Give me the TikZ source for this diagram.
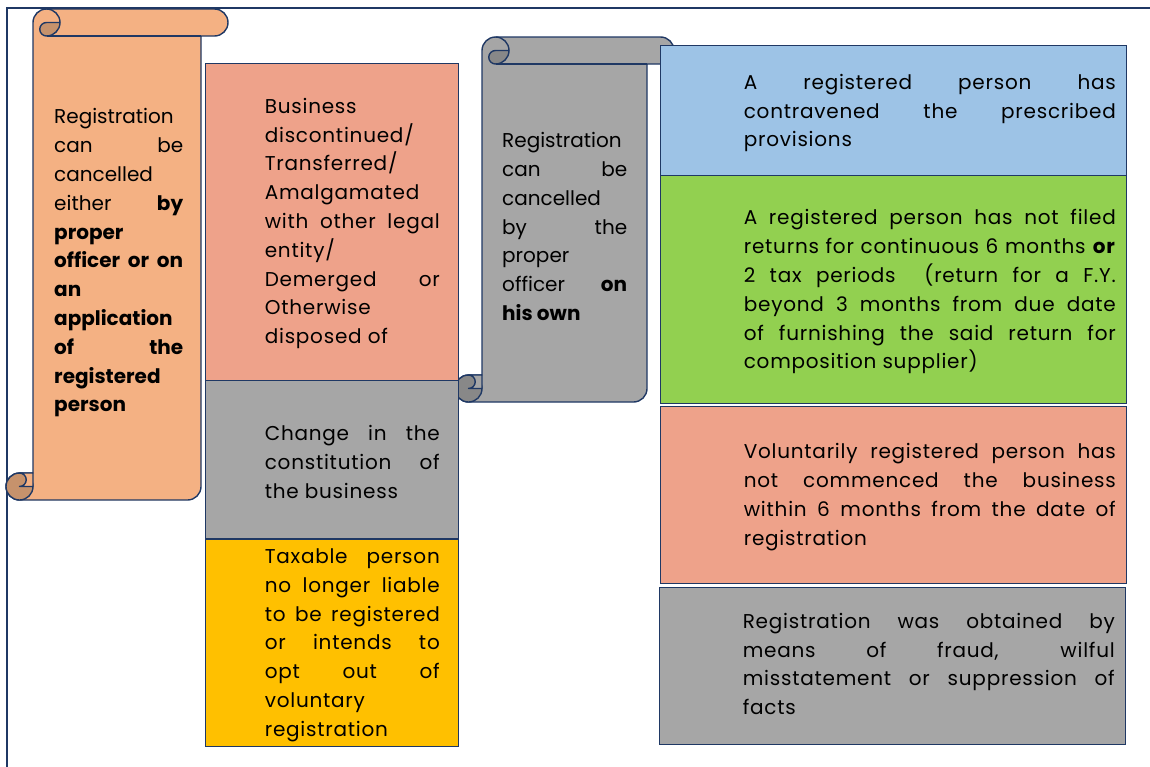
\documentclass[tikz,border=0pt]{standalone}
\usepackage{fontspec}
\setmainfont{Poppins}
\newfontfamily\boxfont[LetterSpace=3.8]{Poppins}
\usepackage{tikz}
\usetikzlibrary{positioning}

\definecolor{navy}{RGB}{31,56,100}
\definecolor{peach}{RGB}{244,177,131}
\definecolor{peachdark}{RGB}{198,146,108}
\definecolor{salmon}{RGB}{238,162,138}
\definecolor{greybox}{RGB}{166,166,166}
\definecolor{greydark}{RGB}{136,136,136}
\definecolor{gold}{RGB}{255,192,0}
\definecolor{skyblue}{RGB}{157,195,230}
\definecolor{leaf}{RGB}{146,208,80}

\def\rr{13.5}
% scroll: fill, curl fill, left, right, top, bottom
\newcommand\drawscroll[6]{%
  \filldraw[scrollline,fill=#1] (#3,#5-\rr) arc[start angle=180,end angle=90,radius=\rr]
    -- (#4+\rr,#5) arc[start angle=90,end angle=-90,radius=\rr]
    -- (#4,#5-2*\rr) -- (#4,#6+\rr) arc[start angle=0,end angle=-90,radius=\rr]
    -- (#3-\rr,#6) arc[start angle=-90,end angle=-270,radius=\rr]
    -- (#3,#6+2*\rr) -- cycle;
  \draw[scrollline] (#3+\rr,#5-2*\rr) -- (#4,#5-2*\rr);
  \filldraw[scrollline,fill=#2] (#3+\rr,#5-\rr) -- (#3+2*\rr,#5-\rr)
    arc[start angle=0,end angle=-90,radius=\rr]
    arc[start angle=270,end angle=90,radius=\rr/2] -- cycle;
  \draw[scrollline] (#3+\rr,#5) arc[start angle=90,end angle=0,radius=\rr];
  \filldraw[scrollline,fill=#2] (#3-\rr,#6+\rr) circle[radius=\rr];
  \filldraw[scrollline,fill=#1] (#3-\rr,#6+\rr) -- (#3,#6+\rr) -- (#3,#6+2*\rr)
    -- (#3-\rr,#6+2*\rr) arc[start angle=90,end angle=-90,radius=\rr/2] -- cycle;
}

\begin{document}
\begin{tikzpicture}[x=1pt,y=1pt,
  scrollline/.style={draw=navy,line width=1.4pt,line join=round},
  box/.style={draw=navy,line width=0.8pt,inner sep=0pt},
  txt/.style={text width=#1,align=justify,inner sep=0pt,
    font=\fontsize{20}{28.8}\selectfont},
  boxtxt/.style={txt=#1,font=\boxfont\fontsize{20}{28.8}\selectfont,yshift=-2pt}]
\useasboundingbox (0,0) rectangle (1150,-766);
\clip (0,0) rectangle (1150,-766);
\draw[navy,line width=1.2pt] (7,-780) |- (1160,-8);

% scrolls
\drawscroll{peach}{peachdark}{33}{201}{-9}{-500}
\drawscroll{greybox}{greydark}{482}{647}{-37}{-402}

\node[txt=129pt,anchor=west] (whotxt) at (54,-263) {%
  Registration\\
  can be\linebreak
  cancelled\\
  either \textbf{by}\linebreak
  \textbf{proper}\\
  \textbf{officer or on}\linebreak
  \textbf{an}\\
  \textbf{application}\\
  \textbf{of the}\linebreak
  \textbf{registered}\\
  \textbf{person}};
\node[txt=125pt,anchor=west] (owntxt) at (502,-226.5) {%
  Registration\\
  can be\linebreak
  cancelled\\
  by the\linebreak
  proper\\
  officer \textbf{on}\linebreak
  \textbf{his own}};

% middle column
\node[box,fill=salmon,minimum width=253pt,minimum height=317pt] (disc) at (331.5,-221.5) {};
\node[box,fill=greybox,minimum width=253pt,minimum height=158pt,below=0pt of disc] (const) {};
\node[box,fill=gold,minimum width=253pt,minimum height=207pt,below=0pt of const] (liable) {};

\node[boxtxt=175pt,right=60pt of disc.west] (disctxt) {%
  Business\\
  discontinued/\\
  Transferred/\\
  Amalgamated\\
  with other legal\linebreak
  entity/\\
  Demerged or\linebreak
  Otherwise\\
  disposed of};
\node[boxtxt=175pt,right=60pt of const.west] (consttxt) {%
  Change in the\linebreak
  constitution of\linebreak
  the business};
\node[boxtxt=175pt,right=60pt of liable.west] (liabletxt) {%
  Taxable person\linebreak
  no longer liable\linebreak
  to be registered\linebreak
  or intends to\linebreak
  opt out of\linebreak
  voluntary\\
  registration};

% right column
\node[box,fill=skyblue,minimum width=466pt,minimum height=130pt] (contra) at (893,-110) {};
\node[box,fill=leaf,minimum width=466pt,minimum height=228pt,below=0pt of contra] (nofile) {};
\node[box,fill=salmon,minimum width=466pt,minimum height=177pt,below=2pt of nofile] (volun) {};
\node[box,fill=greybox,minimum width=466pt,minimum height=157pt,below=3pt of volun,xshift=-1pt] (fraud) {};

\node[boxtxt=372pt,right=84pt of contra.west,yshift=-1pt] (contratxt) {%
  A registered person has\linebreak
  contravened the prescribed\linebreak
  provisions};
\node[boxtxt=372pt,right=84pt of nofile.west] (nofiletxt) {%
  A registered person has not filed\linebreak
  returns for continuous 6 months \textbf{or}\linebreak
  2 tax periods \ (return for a F.Y.\linebreak
  beyond 3 months from due date\linebreak
  of furnishing the said return for\linebreak
  composition supplier)};
\node[boxtxt=372pt,right=84pt of volun.west] (voluntxt) {%
  Voluntarily registered person has\linebreak
  not commenced the business\linebreak
  within 6 months from the date of\linebreak
  registration};
\node[boxtxt=372pt,right=84pt of fraud.west,yshift=4pt] (fraudtxt) {%
  Registration was obtained by\linebreak
  means of fraud, wilful\linebreak
  misstatement or suppression of\linebreak
  facts};
\end{tikzpicture}
\end{document}
